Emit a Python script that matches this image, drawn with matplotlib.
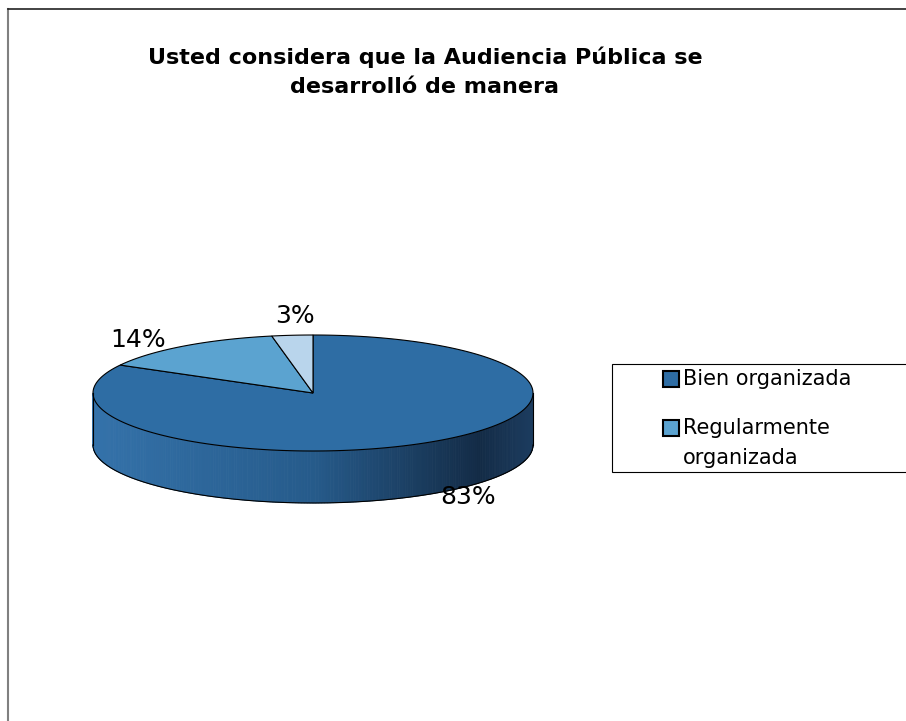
import numpy as np
import matplotlib.pyplot as plt
from matplotlib.patches import Polygon, Rectangle
from matplotlib.colors import to_rgb

# data
categories = ['Bien organizada', 'Regularmente\norganizada', 'Mal organizada']
values = [83, 14, 3]
labels = ['83%', '14%', '3%']
colors = ['#2E6DA4', '#5BA3D0', '#B9D5EC']
title = 'Usted considera que la Audiencia Pública se\ndesarrolló de manera'

W, H = 906, 721
fig = plt.figure(figsize=(W / 100, H / 100), dpi=100)
ax = fig.add_axes([0, 0, 1, 1])
ax.set_xlim(0, W)
ax.set_ylim(H, 0)
ax.axis('off')

# pie geometry (pixels)
cx, cy, rx, ry, depth = 313, 393, 220, 58, 52

def pt(theta):
    t = np.radians(theta)
    return cx + rx * np.cos(t), cy - ry * np.sin(t)

# side wall with horizontal gradient
stops_x = [cx - rx, cx, cx + 0.76 * rx, cx + rx]
stops_c = [to_rgb(c) for c in ['#3472AA', '#265B8B', '#132B46', '#1C3C5F']]
n = 240
th = np.linspace(180, 360, n + 1)
for i in range(n):
    a, b = th[i], th[i + 1]
    x1, y1 = pt(a)
    x2, y2 = pt(b)
    xm = (x1 + x2) / 2
    col = [np.interp(xm, stops_x, [c[k] for c in stops_c]) for k in range(3)]
    ax.add_patch(Polygon([(x1, y1), (x2, y2), (x2, y2 + depth), (x1, y1 + depth)],
                         closed=True, facecolor=col, edgecolor=col, linewidth=0.6))
arc = np.linspace(180, 360, 200)
bx, by = zip(*[pt(t) for t in arc])
ax.plot(bx, np.array(by) + depth, color='black', lw=0.8)
ax.plot([cx - rx, cx - rx], [cy, cy + depth], color='black', lw=0.8)
ax.plot([cx + rx, cx + rx], [cy, cy + depth], color='black', lw=0.8)

# top face wedges, clockwise from 12 o'clock
start = 90.0
for v, c in zip(values, colors):
    span = v / sum(values) * 360
    ts = np.linspace(start, start - span, max(int(span), 2) + 1)
    verts = [(cx, cy)] + [pt(t) for t in ts]
    ax.add_patch(Polygon(verts, closed=True, facecolor=c, edgecolor='black', linewidth=0.8))
    start -= span

# percentage labels
lab_xy = [(468, 497), (138, 340), (295, 316)]
for lab, (lx, ly) in zip(labels, lab_xy):
    ax.text(lx, ly, lab, fontsize=18, ha='center', va='center', color='black')

# title
ax.text(425, 72, title, fontsize=16, fontweight='bold', ha='center', va='center',
        linespacing=1.55)

# legend (box runs past the right edge, last entry hidden)
ax.add_patch(Rectangle((612, 364), 400, 108, facecolor='white', edgecolor='black', lw=0.8))
leg_y = [379, 428]
for cat, c, ly in zip(categories[:2], colors[:2], leg_y):
    ax.plot(671, ly, marker='s', markersize=11, markerfacecolor=c,
            markeredgecolor='black', markeredgewidth=1.5, ls='')
    ax.text(683, ly - 10, cat, fontsize=15, ha='left', va='top', linespacing=1.65)

# chart border
ax.plot([8, 8], [9, H + 5], color='#808080', lw=1.5)
ax.plot([8, W + 5], [9, 9], color='#222222', lw=1.2)

fig.savefig('out.png', dpi=100)
